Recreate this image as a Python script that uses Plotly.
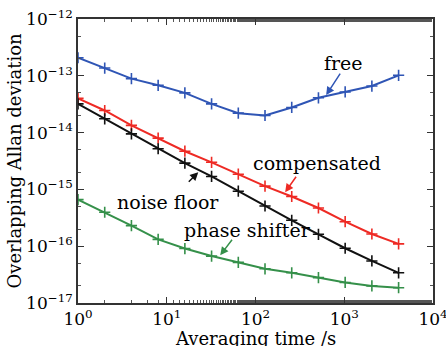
import plotly.graph_objects as go

tau = [1, 2, 4, 8, 16, 32, 64, 128, 256, 512, 1024, 2048, 4096]
free = [2.08e-13, 1.37e-13, 8.9e-14, 6.8e-14, 5.0e-14, 3.2e-14, 2.2e-14, 2.0e-14,
        2.77e-14, 4.1e-14, 5.2e-14, 6.6e-14, 1.02e-13]
compensated = [4.0e-14, 2.45e-14, 1.34e-14, 8.0e-15, 4.7e-15, 3.0e-15, 1.85e-15, 1.14e-15,
               7.5e-16, 4.7e-16, 2.7e-16, 1.64e-16, 1.1e-16]
noise_floor = [3.2e-14, 1.75e-14, 9.5e-15, 5.2e-15, 2.9e-15, 1.69e-15, 9.3e-16, 5.1e-16,
               2.86e-16, 1.62e-16, 9.2e-17, 5.5e-17, 3.4e-17]
phase_shifter = [6.6e-16, 3.96e-16, 2.3e-16, 1.32e-16, 9.1e-17, 6.7e-17, 5.2e-17, 4.0e-17,
                 3.4e-17, 2.8e-17, 2.3e-17, 2.0e-17, 1.86e-17]

x_tickvals = [1, 10, 100, 1000, 10000]
x_ticktext = ["10<sup>0</sup>", "10<sup>1</sup>", "10<sup>2</sup>", "10<sup>3</sup>", "10<sup>4</sup>"]
y_tickvals = [1e-17, 1e-16, 1e-15, 1e-14, 1e-13, 1e-12]
y_ticktext = ["10<sup>\u221217</sup>", "10<sup>\u221216</sup>", "10<sup>\u221215</sup>",
              "10<sup>\u221214</sup>", "10<sup>\u221213</sup>", "10<sup>\u221212</sup>"]
x_title = "Averaging time /s"
y_title = "Overlapping Allan deviation"

series = [
    ("free", free, "#2f55b5"),
    ("compensated", compensated, "#ee2a24"),
    ("noise floor", noise_floor, "#111111"),
    ("phase shifter", phase_shifter, "#35904a"),
]

FONT = "DejaVu Serif"

fig = go.Figure()
for name, vals, col in series:
    fig.add_trace(go.Scatter(
        x=tau, y=vals, name=name, mode="lines+markers",
        line=dict(color=col, width=2),
        marker=dict(symbol="cross-thin", size=8, line=dict(color=col, width=1.6)),
        showlegend=False,
    ))

# labels: (text, text_logx, text_logy, tip_logx, tip_logy, ax, ay, color)
labels = [
    ("free", 2.988, -12.776, 2.796, -13.34, 15, -23, "#2f55b5"),
    ("compensated", 2.695, -14.538, 2.334, -15.05, 12, -17, "#ee2a24"),
    ("noise floor", 1.017, -15.226, 1.355, -14.697, -11, 11, "#111111"),
    ("phase shifter", 1.907, -15.719, 1.602, -16.16, 13, -17, "#35904a"),
]
for text, tx, ty, px, py, ax, ay, col in labels:
    fig.add_annotation(x=tx, y=ty, text=text, showarrow=False,
                       font=dict(family=FONT, size=19, color="black"))
    fig.add_annotation(x=px, y=py, text="", showarrow=True, ax=ax, ay=ay,
                       arrowhead=2, arrowsize=1.1, arrowwidth=1.5, arrowcolor=col)

# x-axis title as paper annotation (placed just below the tick labels)
fig.add_annotation(xref="paper", yref="paper", x=0.5, y=-0.125, yanchor="middle",
                   text=x_title, showarrow=False,
                   font=dict(family=FONT, size=18, color="black"))

axis_common = dict(
    showline=True, linecolor="#333333", linewidth=1.5, mirror="ticks",
    ticks="inside", ticklen=6, tickcolor="#333333", showgrid=False, zeroline=False,
    tickfont=dict(family=FONT, size=17, color="black"),
    minor=dict(ticks="inside", ticklen=3, tickcolor="#555555", showgrid=False),
    automargin=False, ticklabeloverflow="allow",
)

fig.update_xaxes(type="log", range=[0, 4], tickvals=x_tickvals, ticktext=x_ticktext,
                 **axis_common)
fig.update_yaxes(type="log", range=[-17, -12], tickvals=y_tickvals, ticktext=y_ticktext,
                 title=dict(text=y_title, font=dict(family=FONT, size=18, color="black"),
                            standoff=0),
                 **axis_common)

fig.update_layout(
    width=446, height=346,
    margin=dict(l=78, r=13, t=19, b=43),
    paper_bgcolor="white", plot_bgcolor="white",
)

fig.write_html("out.html", config={"displayModeBar": False},
               post_script="document.body.style.margin='0';document.body.style.overflow='hidden';")
